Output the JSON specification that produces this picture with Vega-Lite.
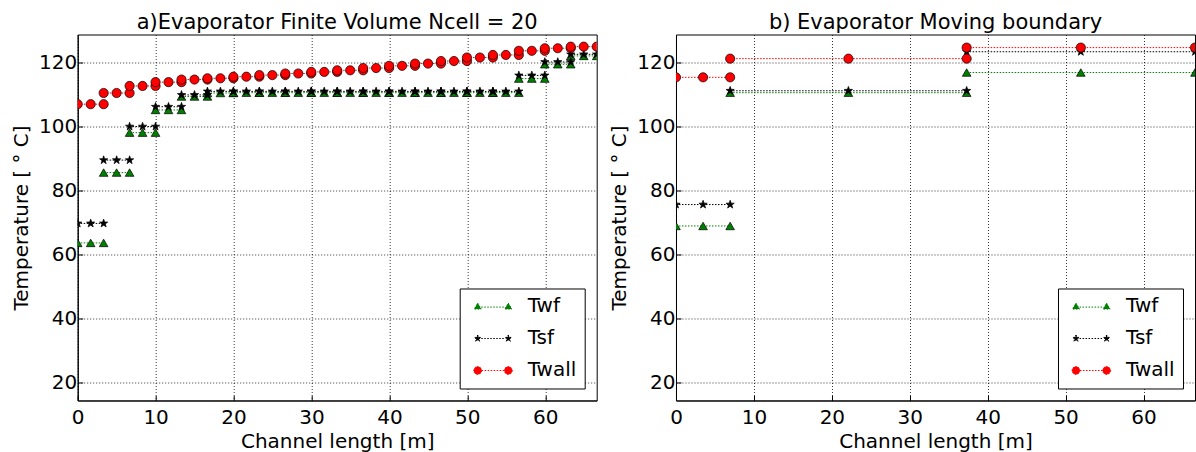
{
  "$schema": "https://vega.github.io/schema/vega-lite/v6.json",
  "padding": {"left": 10.7, "top": 10.5, "right": 0, "bottom": 0},
  "spacing": 11.3,
  "config": {
    "font": "DejaVu Sans",
    "view": {"stroke": "black", "strokeWidth": 1},
    "axis": {
      "labelFont": "DejaVu Sans", "labelFontSize": 20, "titleFont": "DejaVu Sans", "titleFontSize": 20,
      "titleFontWeight": "normal", "labelColor": "#000", "titleColor": "#000", "domainColor": "#000", "domainWidth": 1,
      "tickColor": "#000", "tickSize": -5, "tickWidth": 1,
      "gridColor": "#000", "gridDash": [1, 2], "gridWidth": 1, "gridOpacity": 0.8,
      "labelFlush": false, "labelOverlap": false
    },
    "axisX": {"titlePadding": 4, "labelPadding": 12},
    "axisY": {"titlePadding": 7, "labelPadding": 6},
    "title": {"font": "DejaVu Sans", "fontSize": 21, "fontWeight": "normal", "color": "#000", "offset": 2, "anchor": "middle"},
    "legend": {"orient": "bottom-right", "offset": 12, "padding": 8, "strokeColor": "#000", "fillColor": "#fff", "cornerRadius": 0,
      "labelFont": "DejaVu Sans", "labelFontSize": 20, "labelColor": "#000", "labelOffset": 40, "symbolSize": 64, "rowPadding": 12,
      "symbolOpacity": 1, "symbolDash": [1.5, 1.5], "symbolStrokeWidth": 1}
  },
  "resolve": {"scale": {"color": "independent", "shape": "independent", "stroke": "independent"}, "legend": {"color": "independent", "shape": "independent", "stroke": "independent"}},
  "datasets": {
    "fv": [
      {"c": 1, "x": 0, "Twf": 63.6, "Tsf": 69.7, "Twall": 107.0},
      {"c": 1, "x": 1.665, "Twf": 63.6, "Tsf": 69.7, "Twall": 107.0},
      {"c": 1, "x": 3.33, "Twf": 63.6, "Tsf": 69.7, "Twall": 107.0},
      {"c": 2, "x": 3.33, "Twf": 85.6, "Tsf": 89.5, "Twall": 110.5},
      {"c": 2, "x": 4.995, "Twf": 85.6, "Tsf": 89.5, "Twall": 110.5},
      {"c": 2, "x": 6.66, "Twf": 85.6, "Tsf": 89.5, "Twall": 110.5},
      {"c": 3, "x": 6.66, "Twf": 98.1, "Tsf": 100.0, "Twall": 112.7},
      {"c": 3, "x": 8.325, "Twf": 98.1, "Tsf": 100.0, "Twall": 112.7},
      {"c": 3, "x": 9.99, "Twf": 98.1, "Tsf": 100.0, "Twall": 112.7},
      {"c": 4, "x": 9.99, "Twf": 105.2, "Tsf": 106.2, "Twall": 113.9},
      {"c": 4, "x": 11.655, "Twf": 105.2, "Tsf": 106.2, "Twall": 113.9},
      {"c": 4, "x": 13.32, "Twf": 105.2, "Tsf": 106.2, "Twall": 113.9},
      {"c": 5, "x": 13.32, "Twf": 109.4, "Tsf": 109.9, "Twall": 114.7},
      {"c": 5, "x": 14.985, "Twf": 109.4, "Tsf": 109.9, "Twall": 114.7},
      {"c": 5, "x": 16.65, "Twf": 109.4, "Tsf": 109.9, "Twall": 114.7},
      {"c": 6, "x": 16.65, "Twf": 110.5, "Tsf": 111.0, "Twall": 115.1},
      {"c": 6, "x": 18.315, "Twf": 110.5, "Tsf": 111.0, "Twall": 115.1},
      {"c": 6, "x": 19.98, "Twf": 110.5, "Tsf": 111.0, "Twall": 115.1},
      {"c": 7, "x": 19.98, "Twf": 110.6, "Tsf": 111.0, "Twall": 115.6},
      {"c": 7, "x": 21.645, "Twf": 110.6, "Tsf": 111.0, "Twall": 115.6},
      {"c": 7, "x": 23.31, "Twf": 110.6, "Tsf": 111.0, "Twall": 115.6},
      {"c": 8, "x": 23.31, "Twf": 110.6, "Tsf": 111.0, "Twall": 116.1},
      {"c": 8, "x": 24.975, "Twf": 110.6, "Tsf": 111.0, "Twall": 116.1},
      {"c": 8, "x": 26.64, "Twf": 110.6, "Tsf": 111.0, "Twall": 116.1},
      {"c": 9, "x": 26.64, "Twf": 110.6, "Tsf": 111.0, "Twall": 116.6},
      {"c": 9, "x": 28.305, "Twf": 110.6, "Tsf": 111.0, "Twall": 116.6},
      {"c": 9, "x": 29.97, "Twf": 110.6, "Tsf": 111.0, "Twall": 116.6},
      {"c": 10, "x": 29.97, "Twf": 110.6, "Tsf": 111.0, "Twall": 117.1},
      {"c": 10, "x": 31.635, "Twf": 110.6, "Tsf": 111.0, "Twall": 117.1},
      {"c": 10, "x": 33.3, "Twf": 110.6, "Tsf": 111.0, "Twall": 117.1},
      {"c": 11, "x": 33.3, "Twf": 110.6, "Tsf": 111.0, "Twall": 117.6},
      {"c": 11, "x": 34.965, "Twf": 110.6, "Tsf": 111.0, "Twall": 117.6},
      {"c": 11, "x": 36.63, "Twf": 110.6, "Tsf": 111.0, "Twall": 117.6},
      {"c": 12, "x": 36.63, "Twf": 110.6, "Tsf": 111.0, "Twall": 118.3},
      {"c": 12, "x": 38.295, "Twf": 110.6, "Tsf": 111.0, "Twall": 118.3},
      {"c": 12, "x": 39.96, "Twf": 110.6, "Tsf": 111.0, "Twall": 118.3},
      {"c": 13, "x": 39.96, "Twf": 110.6, "Tsf": 111.0, "Twall": 119.0},
      {"c": 13, "x": 41.625, "Twf": 110.6, "Tsf": 111.0, "Twall": 119.0},
      {"c": 13, "x": 43.29, "Twf": 110.6, "Tsf": 111.0, "Twall": 119.0},
      {"c": 14, "x": 43.29, "Twf": 110.6, "Tsf": 111.0, "Twall": 119.7},
      {"c": 14, "x": 44.955, "Twf": 110.6, "Tsf": 111.0, "Twall": 119.7},
      {"c": 14, "x": 46.62, "Twf": 110.6, "Tsf": 111.0, "Twall": 119.7},
      {"c": 15, "x": 46.62, "Twf": 110.6, "Tsf": 111.0, "Twall": 120.5},
      {"c": 15, "x": 48.285, "Twf": 110.6, "Tsf": 111.0, "Twall": 120.5},
      {"c": 15, "x": 49.95, "Twf": 110.6, "Tsf": 111.0, "Twall": 120.5},
      {"c": 16, "x": 49.95, "Twf": 110.6, "Tsf": 111.0, "Twall": 121.6},
      {"c": 16, "x": 51.615, "Twf": 110.6, "Tsf": 111.0, "Twall": 121.6},
      {"c": 16, "x": 53.28, "Twf": 110.6, "Tsf": 111.0, "Twall": 121.6},
      {"c": 17, "x": 53.28, "Twf": 110.6, "Tsf": 111.0, "Twall": 122.4},
      {"c": 17, "x": 54.945, "Twf": 110.6, "Tsf": 111.0, "Twall": 122.4},
      {"c": 17, "x": 56.61, "Twf": 110.6, "Tsf": 111.0, "Twall": 122.4},
      {"c": 18, "x": 56.61, "Twf": 115.0, "Tsf": 116.0, "Twall": 123.7},
      {"c": 18, "x": 58.275, "Twf": 115.0, "Tsf": 116.0, "Twall": 123.7},
      {"c": 18, "x": 59.94, "Twf": 115.0, "Tsf": 116.0, "Twall": 123.7},
      {"c": 19, "x": 59.94, "Twf": 119.5, "Tsf": 120.2, "Twall": 124.5},
      {"c": 19, "x": 61.605, "Twf": 119.5, "Tsf": 120.2, "Twall": 124.5},
      {"c": 19, "x": 63.27, "Twf": 119.5, "Tsf": 120.2, "Twall": 124.5},
      {"c": 20, "x": 63.27, "Twf": 122.1, "Tsf": 122.6, "Twall": 125.0},
      {"c": 20, "x": 64.935, "Twf": 122.1, "Tsf": 122.6, "Twall": 125.0},
      {"c": 20, "x": 66.6, "Twf": 122.1, "Tsf": 122.6, "Twall": 125.0}
    ],
    "mb": [
      {"c": 1, "x": 0, "Twf": 68.9, "Tsf": 75.6, "Twall": 115.4},
      {"c": 1, "x": 3.475, "Twf": 68.9, "Tsf": 75.6, "Twall": 115.4},
      {"c": 1, "x": 6.95, "Twf": 68.9, "Tsf": 75.6, "Twall": 115.4},
      {"c": 2, "x": 6.95, "Twf": 110.6, "Tsf": 111.2, "Twall": 121.25},
      {"c": 2, "x": 22.125, "Twf": 110.6, "Tsf": 111.2, "Twall": 121.25},
      {"c": 2, "x": 37.3, "Twf": 110.6, "Tsf": 111.2, "Twall": 121.25},
      {"c": 3, "x": 37.3, "Twf": 116.9, "Tsf": 123.4, "Twall": 124.7},
      {"c": 3, "x": 51.95, "Twf": 116.9, "Tsf": 123.4, "Twall": 124.7},
      {"c": 3, "x": 66.6, "Twf": 116.9, "Tsf": 123.4, "Twall": 124.7}
    ]
  },
  "hconcat": [
    {
      "title": "a)Evaporator Finite Volume Ncell = 20",
      "width": 519, "height": 366,
      "data": {"name": "fv"},
      "transform": [{"fold": ["Twf", "Tsf", "Twall"], "as": ["series", "T"]}],
      "encoding": {
        "x": {"field": "x", "type": "quantitative", "scale": {"domain": [0, 66.6], "nice": false, "zero": false}, "axis": {"title": "Channel length [m]", "values": [0, 10, 20, 30, 40, 50, 60]}},
        "y": {"field": "T", "type": "quantitative", "scale": {"domain": [14.3, 128.8], "nice": false, "zero": false}, "axis": {"title": "Temperature [ ° C]", "values": [20, 40, 60, 80, 100, 120]}}
      },
      "layer": [
        {"transform": [{"filter": "datum.series === 'Twf'"}], "mark": {"type": "line", "color": "#008000", "strokeDash": [1.5, 1.5], "strokeWidth": 1, "clip": true}, "encoding": {"detail": {"field": "c", "type": "nominal"}}},
        {"transform": [{"filter": "datum.series === 'Twf'"}], "mark": {"type": "point", "shape": "triangle-up", "filled": true, "fill": "#008000", "stroke": "black", "strokeWidth": 0.7, "opacity": 1, "size": 75, "clip": true}},
        {"transform": [{"filter": "datum.series === 'Tsf'"}], "mark": {"type": "line", "color": "#000000", "strokeDash": [1.5, 1.5], "strokeWidth": 1, "clip": true}, "encoding": {"detail": {"field": "c", "type": "nominal"}}},
        {"transform": [{"filter": "datum.series === 'Tsf'"}], "mark": {"type": "point", "shape": "M0,-1L0.235,-0.324L0.951,-0.309L0.38,0.124L0.588,0.809L0,0.4L-0.588,0.809L-0.38,0.124L-0.951,-0.309L-0.235,-0.324Z", "filled": true, "fill": "#000000", "stroke": "black", "strokeWidth": 0.7, "opacity": 1, "size": 75, "clip": true}},
        {"transform": [{"filter": "datum.series === 'Twall'"}], "mark": {"type": "line", "color": "#ff0000", "strokeDash": [1.5, 1.5], "strokeWidth": 1, "clip": true}, "encoding": {"detail": {"field": "c", "type": "nominal"}}},
        {"transform": [{"filter": "datum.series === 'Twall'"}], "mark": {"type": "point", "shape": "circle", "filled": true, "fill": "#ff0000", "stroke": "black", "strokeWidth": 0.7, "opacity": 1, "size": 85, "clip": true}},
        {"mark": {"type": "point", "filled": true, "opacity": 0, "clip": true},
          "encoding": {
            "color": {"field": "series", "type": "nominal", "legend": {"title": null}, "scale": {"domain": ["Twf", "Tsf", "Twall"], "range": ["#008000", "#000000", "#ff0000"]}},
            "stroke": {"field": "series", "type": "nominal", "legend": {"title": null}, "scale": {"domain": ["Twf", "Tsf", "Twall"], "range": ["#008000", "#000000", "#ff0000"]}},
            "shape": {"field": "series", "type": "nominal", "legend": {"title": null}, "scale": {"domain": ["Twf", "Tsf", "Twall"], "range": [
              "M0,-0.85L0.875,0.65L-0.875,0.65ZM7.65,-0.85L8.525,0.65L6.775,0.65ZM0.9,0.15L6.75,0.15",
              "M0,-0.875L0.206,-0.284L0.832,-0.27L0.333,0.109L0.515,0.708L0,0.35L-0.515,0.708L-0.333,0.109L-0.832,-0.27L-0.206,-0.284ZM7.65,-0.875L7.856,-0.284L8.482,-0.27L7.983,0.109L8.165,0.708L7.65,0.35L7.135,0.708L7.317,0.109L6.818,-0.27L7.444,-0.284ZM0.9,0L6.75,0",
              "M1,0L0.866,0.5L0.5,0.866L0,1L-0.5,0.866L-0.866,0.5L-1,0L-0.866,-0.5L-0.5,-0.866L0,-1L0.5,-0.866L0.866,-0.5ZM8.65,0L8.516,0.5L8.15,0.866L7.65,1L7.15,0.866L6.784,0.5L6.65,0L6.784,-0.5L7.15,-0.866L7.65,-1L8.15,-0.866L8.516,-0.5ZM1,0L6.65,0"]}}
          }}
      ]
    },
    {
      "title": "b) Evaporator Moving boundary",
      "width": 519, "height": 366,
      "data": {"name": "mb"},
      "transform": [{"fold": ["Twf", "Tsf", "Twall"], "as": ["series", "T"]}],
      "encoding": {
        "x": {"field": "x", "type": "quantitative", "scale": {"domain": [0, 66.6], "nice": false, "zero": false}, "axis": {"title": "Channel length [m]", "values": [0, 10, 20, 30, 40, 50, 60]}},
        "y": {"field": "T", "type": "quantitative", "scale": {"domain": [14.3, 128.8], "nice": false, "zero": false}, "axis": {"title": "Temperature [ ° C]", "values": [20, 40, 60, 80, 100, 120]}}
      },
      "layer": [
        {"transform": [{"filter": "datum.series === 'Twf'"}], "mark": {"type": "line", "color": "#008000", "strokeDash": [1.5, 1.5], "strokeWidth": 1, "clip": true}, "encoding": {"detail": {"field": "c", "type": "nominal"}}},
        {"transform": [{"filter": "datum.series === 'Twf'"}], "mark": {"type": "point", "shape": "triangle-up", "filled": true, "fill": "#008000", "stroke": "black", "strokeWidth": 0.7, "opacity": 1, "size": 75, "clip": true}},
        {"transform": [{"filter": "datum.series === 'Tsf'"}], "mark": {"type": "line", "color": "#000000", "strokeDash": [1.5, 1.5], "strokeWidth": 1, "clip": true}, "encoding": {"detail": {"field": "c", "type": "nominal"}}},
        {"transform": [{"filter": "datum.series === 'Tsf'"}], "mark": {"type": "point", "shape": "M0,-1L0.235,-0.324L0.951,-0.309L0.38,0.124L0.588,0.809L0,0.4L-0.588,0.809L-0.38,0.124L-0.951,-0.309L-0.235,-0.324Z", "filled": true, "fill": "#000000", "stroke": "black", "strokeWidth": 0.7, "opacity": 1, "size": 75, "clip": true}},
        {"transform": [{"filter": "datum.series === 'Twall'"}], "mark": {"type": "line", "color": "#ff0000", "strokeDash": [1.5, 1.5], "strokeWidth": 1, "clip": true}, "encoding": {"detail": {"field": "c", "type": "nominal"}}},
        {"transform": [{"filter": "datum.series === 'Twall'"}], "mark": {"type": "point", "shape": "circle", "filled": true, "fill": "#ff0000", "stroke": "black", "strokeWidth": 0.7, "opacity": 1, "size": 85, "clip": true}},
        {"mark": {"type": "point", "filled": true, "opacity": 0, "clip": true},
          "encoding": {
            "color": {"field": "series", "type": "nominal", "legend": {"title": null}, "scale": {"domain": ["Twf", "Tsf", "Twall"], "range": ["#008000", "#000000", "#ff0000"]}},
            "stroke": {"field": "series", "type": "nominal", "legend": {"title": null}, "scale": {"domain": ["Twf", "Tsf", "Twall"], "range": ["#008000", "#000000", "#ff0000"]}},
            "shape": {"field": "series", "type": "nominal", "legend": {"title": null}, "scale": {"domain": ["Twf", "Tsf", "Twall"], "range": [
              "M0,-0.85L0.875,0.65L-0.875,0.65ZM7.65,-0.85L8.525,0.65L6.775,0.65ZM0.9,0.15L6.75,0.15",
              "M0,-0.875L0.206,-0.284L0.832,-0.27L0.333,0.109L0.515,0.708L0,0.35L-0.515,0.708L-0.333,0.109L-0.832,-0.27L-0.206,-0.284ZM7.65,-0.875L7.856,-0.284L8.482,-0.27L7.983,0.109L8.165,0.708L7.65,0.35L7.135,0.708L7.317,0.109L6.818,-0.27L7.444,-0.284ZM0.9,0L6.75,0",
              "M1,0L0.866,0.5L0.5,0.866L0,1L-0.5,0.866L-0.866,0.5L-1,0L-0.866,-0.5L-0.5,-0.866L0,-1L0.5,-0.866L0.866,-0.5ZM8.65,0L8.516,0.5L8.15,0.866L7.65,1L7.15,0.866L6.784,0.5L6.65,0L6.784,-0.5L7.15,-0.866L7.65,-1L8.15,-0.866L8.516,-0.5ZM1,0L6.65,0"]}}
          }}
      ]
    }
  ]
}
